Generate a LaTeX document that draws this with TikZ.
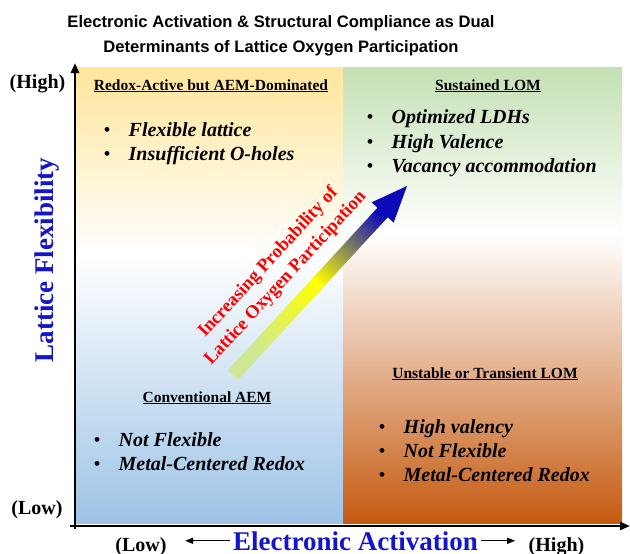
\documentclass[tikz,border=0pt]{standalone}
\usepackage{fontspec}
\setmainfont{Liberation Serif}
\newfontfamily\titlefont{Liberation Sans}
\usepackage{tikz}
\usetikzlibrary{
	arrows.meta,
	calc,
	positioning
}
\definecolor{AxisBlue}{RGB}{20,20,200}
\definecolor{PaleGold}{RGB}{255,230,155}
\definecolor{PaleGreen}{RGB}{197,224,180}
\definecolor{PaleBlue}{RGB}{157,195,230}
\definecolor{BurntOrange}{RGB}{197,90,17}
\definecolor{LimeTail}{RGB}{208,232,150}
\definecolor{TipBlue}{RGB}{10,10,185}
\newcommand{\bul}{{\normalfont\textbullet}\hspace{18pt}}

\begin{document}
\begin{tikzpicture}[x=1pt, y=-1pt,
	quadhead/.style={font=\bfseries\fontsize{15.5}{18}\selectfont, anchor=base, inner sep=0pt},
	item/.style={font=\bfseries\itshape\fontsize{20}{24}\selectfont, anchor=base west, inner sep=0pt},
	endlabel/.style={font=\bfseries\fontsize{20}{24}\selectfont, anchor=base},
	axislabel/.style={font=\bfseries\fontsize{27}{30}\selectfont, text=AxisBlue, anchor=base, inner sep=1pt},
	axisline/.style={line width=2.5pt, -{Triangle[length=10pt,width=8pt]}},
	smallarrow/.style={line width=1.2pt, -{Triangle[length=8pt,width=6pt]}}]
	\useasboundingbox (0,0) rectangle (630,554);

	% quadrant backgrounds
	\shade[top color=PaleGold, bottom color=white] (75,67) rectangle (343,255.5);
	\shade[top color=white, bottom color=PaleBlue] (75,255) rectangle (343,523);
	\shade[top color=PaleGreen, bottom color=white] (343,67) rectangle (622,235.5);
	\shade[top color=white, bottom color=BurntOrange] (343,235) rectangle (622,523);

	% axes
	\coordinate (ytop) at (75,63);
	\coordinate (xend) at (630,526);
	\draw[axisline] (75,529) -- (ytop);
	\draw[axisline] (70,526) -- (xend);

	\node[font=\titlefont\bfseries\fontsize{16.6}{25.5}\selectfont, align=center, anchor=north, inner sep=0pt] (title) at (281,15)
		{Electronic Activation \& Structural Compliance as Dual\\Determinants of Lattice Oxygen Participation};

	\node[endlabel] (yhigh) at (37.5,88.3) {(High)};
	\node[endlabel] (ylow) at (37,514) {(Low)};
	\node[endlabel] (xlow) at (141,551) {(Low)};
	\node[endlabel] (xhigh) at (556.5,551) {(High)};
	\node[axislabel] (xlabel) at (355.5,550) {Electronic Activation};
	\node[axislabel, rotate=90] (ylabel) at (53,260) {Lattice Flexibility};
	\draw[smallarrow, shorten >=15pt] ([xshift=-2pt]xlabel.west) -- (xlabel.west -| xlow.east);
	\draw[smallarrow, shorten >=10pt] ([xshift=2pt]xlabel.east) -- (xlabel.east -| xhigh.west);

	\node[quadhead] (tlhead) at (211,90) {\underline{Redox-Active but AEM-Dominated}};
	\node[quadhead] (trhead) at (488,90) {\underline{Sustained LOM}};
	\node[quadhead] (blhead) at (207,402) {\underline{Conventional AEM}};
	\node[quadhead] (brhead) at (485,378) {\underline{Unstable or Transient LOM}};

	\foreach \txt [count=\k from 0] in {Flexible lattice, Insufficient O-holes}
		\node[item] (tl\k) at (103.5,136+24*\k) {\bul\txt};
	\foreach \txt [count=\k from 0] in {Optimized LDHs, High Valence, Vacancy accommodation}
		\node[item] (tr\k) at (366.5,123.5+24.5*\k) {\bul\txt};
	\foreach \txt [count=\k from 0] in {Not Flexible, Metal-Centered Redox}
		\node[item] (bl\k) at (93.5,446.7+24*\k) {\bul\txt};
	\foreach \txt [count=\k from 0] in {High valency, Not Flexible, Metal-Centered Redox}
		\node[item] (br\k) at (378.5,433.5+24*\k) {\bul\txt};

	% probability arrow
	\coordinate (tail) at (233,375);
	\coordinate (tip) at (407,186);
	\coordinate (hb) at ($(tip)!36pt!(tail)$);
	\shade[top color=TipBlue, bottom color=LimeTail, middle color=yellow, shading angle=-42.6]
		($(tail)!7pt!90:(tip)$) -- ($(hb)!7pt!90:(tip)$) -- ($(hb)!15pt!90:(tip)$) -- (tip)
		-- ($(hb)!15pt!-90:(tip)$) -- ($(hb)!7pt!-90:(tip)$) -- ($(tail)!7pt!-90:(tip)$) -- cycle;
	\node[font=\bfseries\fontsize{18.5}{23.5}\selectfont, text=red, align=center, rotate=47.4] (problabel) at (277,270.5)
		{Increasing Probability of\\Lattice Oxygen Participation};
\end{tikzpicture}
\end{document}
